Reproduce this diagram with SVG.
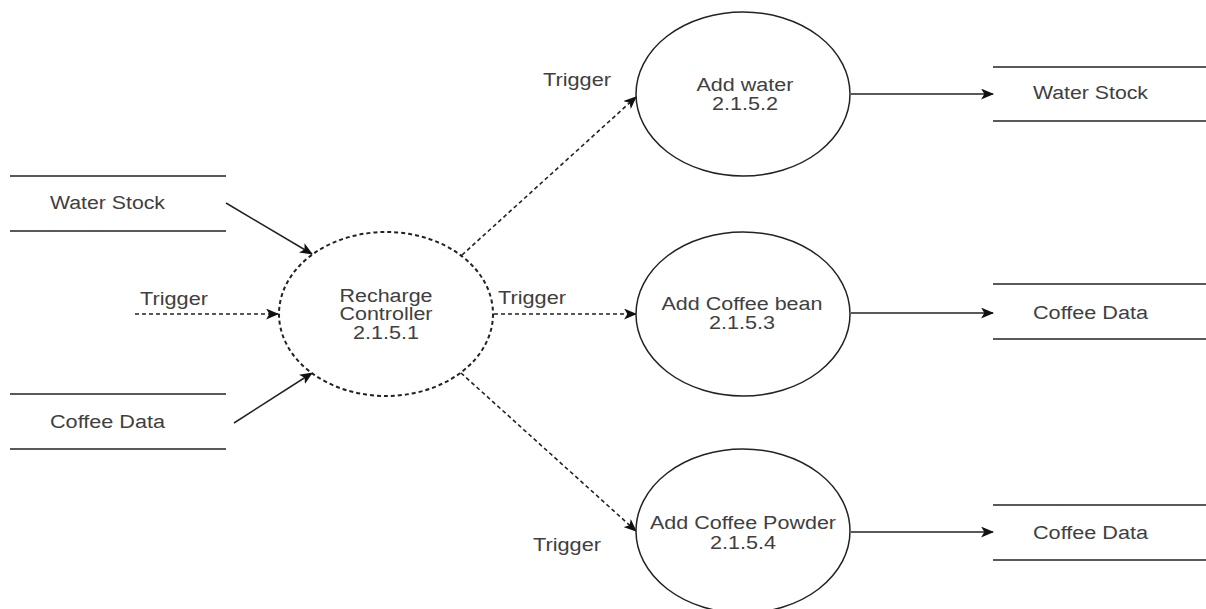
<svg xmlns="http://www.w3.org/2000/svg" width="1206" height="609" viewBox="0 0 1206 609">
  <style>
    text { font-family: "Liberation Sans", Arial, sans-serif; font-size: 18px; fill: #404040; }
    .mid { text-anchor: middle; }
    .store { stroke: #222; stroke-width: 1.5; fill: none; }
    .proc { stroke: #222; stroke-width: 1.5; fill: #fff; }
    .proc-dash { stroke: #222; stroke-width: 2; stroke-dasharray: 4 3; fill: #fff; }
    .flow { stroke: #222; stroke-width: 1.5; fill: none; marker-end: url(#arrow); }
    .flow-dash { stroke: #222; stroke-width: 1.6; stroke-dasharray: 4 3; fill: none; marker-end: url(#arrow); }
  </style>
  <defs>
    <marker id="arrow" viewBox="0 0 12 10" refX="11" refY="5" markerWidth="13" markerHeight="11" markerUnits="userSpaceOnUse" orient="auto">
      <path d="M0,0 L12,5 L0,10 L3,5 Z" fill="#111"/>
    </marker>
  </defs>

  <rect width="1206" height="609" fill="#fff"/>

  <!-- connectors -->
  <g id="connectors">
    <line class="flow" x1="226" y1="203" x2="312" y2="254"/>
    <line class="flow" x1="234" y1="423" x2="312" y2="373"/>
    <line class="flow-dash" x1="135" y1="314" x2="278" y2="314"/>
    <line class="flow-dash" x1="462" y1="255" x2="636" y2="97"/>
    <line class="flow-dash" x1="494" y1="314" x2="636" y2="314"/>
    <line class="flow-dash" x1="461" y1="373" x2="636" y2="531"/>
    <line class="flow" x1="851" y1="94" x2="993" y2="94"/>
    <line class="flow" x1="851" y1="313" x2="993" y2="313"/>
    <line class="flow" x1="851" y1="532" x2="993" y2="532"/>
    <text x="140" y="305" textLength="68" lengthAdjust="spacingAndGlyphs">Trigger</text>
    <text x="543" y="86" textLength="68" lengthAdjust="spacingAndGlyphs">Trigger</text>
    <text x="498" y="304" textLength="68" lengthAdjust="spacingAndGlyphs">Trigger</text>
    <text x="533" y="551" textLength="68" lengthAdjust="spacingAndGlyphs">Trigger</text>
  </g>

  <!-- left data stores -->
  <g id="store-water-in">
    <line class="store" x1="10" y1="176" x2="226" y2="176"/>
    <line class="store" x1="10" y1="231" x2="226" y2="231"/>
    <text x="50" y="209" textLength="115" lengthAdjust="spacingAndGlyphs">Water Stock</text>
  </g>
  <g id="store-coffee-in">
    <line class="store" x1="10" y1="394" x2="226" y2="394"/>
    <line class="store" x1="10" y1="449" x2="226" y2="449"/>
    <text x="50" y="428" textLength="115" lengthAdjust="spacingAndGlyphs">Coffee Data</text>
  </g>

  <!-- processes -->
  <g id="recharge-controller">
    <ellipse class="proc-dash" cx="386" cy="314" rx="107" ry="82"/>
    <text class="mid" x="386" y="302" textLength="93" lengthAdjust="spacingAndGlyphs">Recharge</text>
    <text class="mid" x="386" y="320" textLength="93" lengthAdjust="spacingAndGlyphs">Controller</text>
    <text class="mid" x="386" y="339" textLength="66" lengthAdjust="spacingAndGlyphs">2.1.5.1</text>
  </g>
  <g id="add-water">
    <ellipse class="proc" cx="743" cy="94" rx="107" ry="82"/>
    <text class="mid" x="745" y="91" textLength="97" lengthAdjust="spacingAndGlyphs">Add water</text>
    <text class="mid" x="745" y="110" textLength="66" lengthAdjust="spacingAndGlyphs">2.1.5.2</text>
  </g>
  <g id="add-coffee-bean">
    <ellipse class="proc" cx="743" cy="314" rx="107" ry="82"/>
    <text class="mid" x="742" y="310" textLength="161" lengthAdjust="spacingAndGlyphs">Add Coffee bean</text>
    <text class="mid" x="742" y="329" textLength="66" lengthAdjust="spacingAndGlyphs">2.1.5.3</text>
  </g>
  <g id="add-coffee-powder">
    <ellipse class="proc" cx="743" cy="531" rx="107" ry="82"/>
    <text class="mid" x="743" y="529" textLength="186" lengthAdjust="spacingAndGlyphs">Add Coffee Powder</text>
    <text class="mid" x="743" y="549" textLength="66" lengthAdjust="spacingAndGlyphs">2.1.5.4</text>
  </g>

  <!-- right data stores -->
  <g id="store-water-out">
    <line class="store" x1="993" y1="67" x2="1206" y2="67"/>
    <line class="store" x1="993" y1="121" x2="1206" y2="121"/>
    <text x="1033" y="99" textLength="115" lengthAdjust="spacingAndGlyphs">Water Stock</text>
  </g>
  <g id="store-coffee-bean-out">
    <line class="store" x1="993" y1="284" x2="1206" y2="284"/>
    <line class="store" x1="993" y1="339" x2="1206" y2="339"/>
    <text x="1033" y="319" textLength="115" lengthAdjust="spacingAndGlyphs">Coffee Data</text>
  </g>
  <g id="store-coffee-powder-out">
    <line class="store" x1="993" y1="505" x2="1206" y2="505"/>
    <line class="store" x1="993" y1="560" x2="1206" y2="560"/>
    <text x="1033" y="539" textLength="115" lengthAdjust="spacingAndGlyphs">Coffee Data</text>
  </g>
</svg>
